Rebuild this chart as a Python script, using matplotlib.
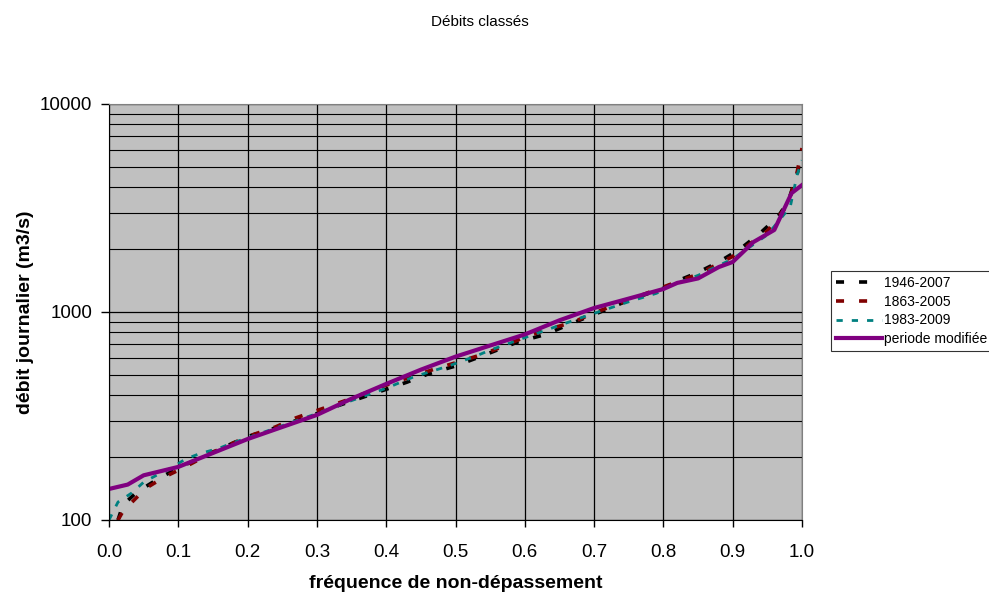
import matplotlib
matplotlib.use("Agg")
import matplotlib.pyplot as plt
from matplotlib.ticker import LogLocator, FixedLocator, NullFormatter, NullLocator

plt.rcParams["font.family"] = ["Liberation Sans", "DejaVu Sans"]
plt.rcParams["lines.scale_dashes"] = False

# courbes des débits classés
x_1946 = [0.013, 0.02, 0.04, 0.07, 0.1, 0.15, 0.2, 0.23, 0.26, 0.3, 0.33, 0.4,
          0.43, 0.46, 0.5, 0.53, 0.56, 0.59, 0.63, 0.66, 0.69, 0.72, 0.75, 0.8,
          0.82, 0.85, 0.88, 0.91, 0.94, 0.965, 0.98, 0.993, 1.0]
q_1946 = [100, 118, 136, 157, 178, 212, 252, 270, 293, 325, 354, 425,
          460, 503, 550, 600, 656, 718, 780, 860, 945, 1034, 1140, 1300,
          1410, 1550, 1740, 2000, 2400, 2860, 3400, 4600, 5800]

x_1863 = [0.013, 0.02, 0.053, 0.08, 0.11, 0.15, 0.2, 0.24, 0.27, 0.3, 0.34, 0.37,
          0.4, 0.47, 0.5, 0.54, 0.57, 0.6, 0.63, 0.67, 0.7, 0.73, 0.8, 0.85,
          0.9, 0.95, 0.98, 0.993, 1.0]
q_1863 = [100, 110, 142, 161, 180, 212, 252, 280, 310, 336, 374, 408,
          445, 532, 570, 627, 686, 758, 818, 895, 990, 1080, 1320, 1520,
          1850, 2450, 3300, 4710, 6140]

x_1983 = [0.0, 0.013, 0.033, 0.05, 0.07, 0.09, 0.11, 0.13, 0.16, 0.18, 0.2, 0.22,
          0.3, 0.35, 0.4, 0.44, 0.49, 0.53, 0.55, 0.62, 0.68, 0.75, 0.79, 0.81,
          0.85, 0.9, 0.95, 0.983, 0.993, 1.0]
q_1983 = [100, 122, 135, 152, 165, 178, 196, 208, 222, 236, 248, 262,
          325, 375, 430, 488, 550, 615, 656, 795, 935, 1120, 1230, 1335,
          1500, 1800, 2350, 3200, 4570, 5370]

x_modif = [0.0, 0.027, 0.05, 0.1, 0.15, 0.2, 0.25, 0.3, 0.35, 0.4, 0.45, 0.5,
           0.55, 0.6, 0.65, 0.7, 0.75, 0.8, 0.82, 0.85, 0.88, 0.9, 0.93, 0.96,
           0.985, 1.0]
q_modif = [141, 148, 164, 180, 210, 245, 280, 320, 383, 451, 528, 610,
           690, 780, 912, 1045, 1160, 1290, 1380, 1450, 1645, 1740, 2170, 2480,
           3730, 4075]

labels = ["1946-2007", "1863-2005", "1983-2009", "periode modifiée"]

fig = plt.figure(figsize=(9.89, 5.92), dpi=100)
ax = fig.add_axes([109 / 989, 1 - 520 / 592, (802 - 109) / 989, (520 - 104) / 592])
ax.set_facecolor("#C0C0C0")

ax.plot(x_1946, q_1946, color="#000000", lw=2.6, dashes=(5.8, 10.8),
        label=labels[0], dash_capstyle="butt")
ax.plot(x_1863, q_1863, color="#800000", lw=2.6, dashes=(5.8, 10.8),
        label=labels[1], dash_capstyle="butt")
ax.plot(x_1983, q_1983, color="#008080", lw=2.0, dashes=(4.5, 6.5),
        label=labels[2], dash_capstyle="butt")
ax.plot(x_modif, q_modif, color="#800080", lw=3.0, label=labels[3])

ax.set_yscale("log")
ax.set_xlim(0, 1)
ax.set_ylim(100, 10000)

ax.xaxis.set_major_locator(FixedLocator([i / 10 for i in range(11)]))
ax.set_xticklabels([f"{i / 10:.1f}" for i in range(11)])
ax.yaxis.set_major_locator(FixedLocator([100, 1000, 10000]))
ax.set_yticklabels(["100", "1000", "10000"])
ax.yaxis.set_minor_locator(LogLocator(base=10, subs=range(2, 10)))
ax.yaxis.set_minor_formatter(NullFormatter())
ax.xaxis.set_minor_locator(NullLocator())

ax.tick_params(axis="both", which="major", direction="out", labelsize=13.5,
               color="black", width=1)
ax.tick_params(axis="y", which="major", length=6, pad=6)
ax.tick_params(axis="x", which="major", length=5, pad=12)
ax.tick_params(axis="y", which="minor", length=0)

ax.grid(True, which="major", axis="both", color="black", lw=0.9)
ax.grid(True, which="minor", axis="y", color="black", lw=0.8)
ax.set_axisbelow(True)

for side in ["top", "right"]:
    ax.spines[side].set_color("#808080")
for side in ["left", "bottom"]:
    ax.spines[side].set_color("black")

ax.set_xlabel("fréquence de non-dépassement", fontsize=14, fontweight="bold",
              labelpad=10)
ax.set_ylabel("débit journalier (m3/s)", fontsize=14, fontweight="bold",
              labelpad=4)

fig.text(480 / 989, 1 - 22 / 592, "Débits classés", ha="center", va="center",
         fontsize=11)

leg = fig.legend(loc="center left", bbox_to_anchor=(831 / 989, 1 - 311 / 592),
                 fontsize=10, frameon=True, fancybox=False, edgecolor="black",
                 handlelength=3.3, handletextpad=0.2, labelspacing=0.35,
                 borderpad=0.35, borderaxespad=0)
leg.get_frame().set_linewidth(0.8)

fig.savefig("out.png", dpi=100)
